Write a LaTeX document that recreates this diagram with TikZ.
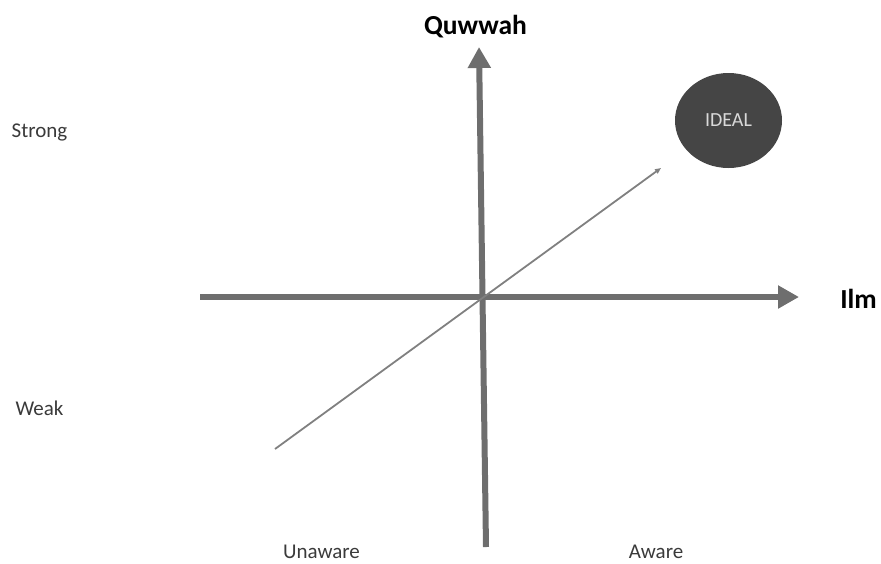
\documentclass[tikz,border=0pt]{standalone}
\usepackage{fontspec}
\setmainfont{Carlito}
\usetikzlibrary{arrows.meta,shapes.geometric}
\definecolor{axisgray}{HTML}{6E6E6E}
\definecolor{diaggray}{HTML}{808080}
\definecolor{idealfill}{HTML}{454545}
\definecolor{labelgray}{HTML}{3A3A3A}
\definecolor{idealtext}{HTML}{D9D9D9}
\tikzset{
  axisline/.style={draw=axisgray, line width=6pt, -{Triangle[length=21pt,width=22pt]}},
  diagline/.style={draw=diaggray, line width=1.8pt, -{Triangle[length=6pt,width=5pt]}},
  title/.style={font=\fontsize{27.5}{30}\selectfont\bfseries, text=black, inner sep=0pt},
  lbl/.style={font=\fontsize{21}{23}\selectfont, text=labelgray, inner sep=0pt},
  idealnode/.style={ellipse, fill=idealfill, minimum width=107pt, minimum height=95pt, text=idealtext, font=\fontsize{20}{22}\selectfont, inner sep=0pt}
}
\begin{document}
\begin{tikzpicture}[x=1pt,y=1pt]
\useasboundingbox (0,0) rectangle (881,-563);
% axis end points
\coordinate (hl) at (200,-297);
\coordinate (hr) at (799,-297);
\coordinate (vb) at (486,-547);
\coordinate (vt) at (479,-47);
\coordinate (ds) at (275,-449);
\coordinate (de) at (661,-168);
\draw[axisline] (hl) -- (hr);
\draw[axisline] (vb) -- (vt);
\draw[diagline] (ds) -- (de);
\node[idealnode] (ideal) at (728.5,-120.5) {IDEAL};
\node[title] (quwwah) at (475.5,-27) {Quwwah};
\node[title] (ilm) at (858.5,-299) {Ilm};
\node[lbl] (strong) at (39.5,-132) {Strong};
\node[lbl] (weak) at (39.5,-408) {Weak};
\node[lbl] (unaware) at (321.5,-552) {Unaware};
\node[lbl] (aware) at (656,-552) {Aware};
\end{tikzpicture}
\end{document}
